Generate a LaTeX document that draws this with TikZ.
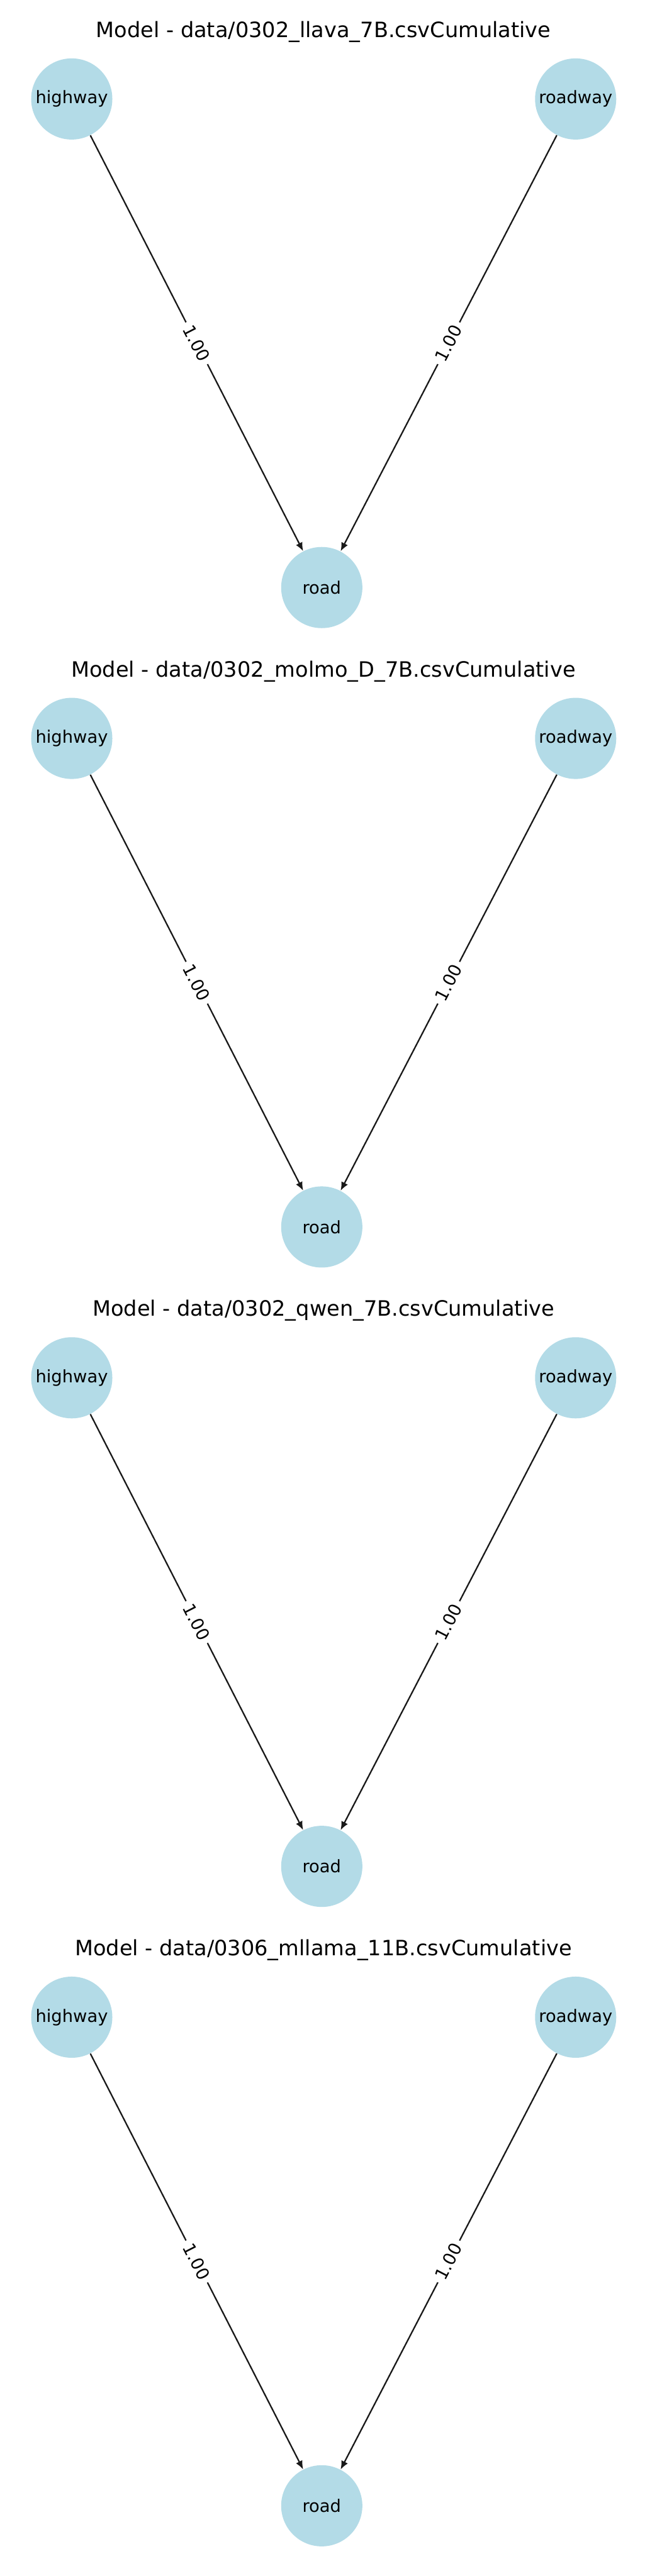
\documentclass[tikz,border=0pt]{standalone}
\usepackage{fontspec}
\setmainfont{DejaVu Sans}
\usetikzlibrary{arrows.meta}
\definecolor{nodeblue}{RGB}{179,219,231}

\begin{document}
\begin{tikzpicture}[
  wordnode/.style={circle,fill=nodeblue,minimum size=1.89cm,inner sep=0pt,font=\fontsize{11.4}{13}\selectfont},
  heading/.style={anchor=base,font=\fontsize{14}{17}\selectfont},
  edgeline/.style={-{Latex[length=0.2cm,width=0.17cm]},line width=0.95pt,black!90},
  edgeweight/.style={midway,sloped,fill=white,inner sep=0.1cm,text=black,font=\fontsize{11.4}{13}\selectfont}]
  \useasboundingbox[fill=white](0,0)rectangle(15,-60);
  % first model
  \node[heading](t1)at(7.53,-0.87){Model - data/0302\_llava\_7B.csvCumulative};
  \node[wordnode](h1)at(1.67,-2.305){highway};
  \node[wordnode](w1)at(13.40,-2.305){roadway};
  \node[wordnode](r1)at(7.49,-13.685){road};
  \draw[edgeline](h1)--(r1)node[edgeweight]{1.00};
  \draw[edgeline](w1)--(r1)node[edgeweight]{1.00};
  % second model
  \begin{scope}[shift={(0,-14.893)}]
    \node[heading](t2)at(7.53,-0.87){Model - data/0302\_molmo\_D\_7B.csvCumulative};
    \node[wordnode](h2)at(1.67,-2.305){highway};
    \node[wordnode](w2)at(13.40,-2.305){roadway};
    \node[wordnode](r2)at(7.49,-13.685){road};
    \draw[edgeline](h2)--(r2)node[edgeweight]{1.00};
    \draw[edgeline](w2)--(r2)node[edgeweight]{1.00};
  \end{scope}
  % third model
  \begin{scope}[shift={(0,-29.786)}]
    \node[heading](t3)at(7.53,-0.87){Model - data/0302\_qwen\_7B.csvCumulative};
    \node[wordnode](h3)at(1.67,-2.305){highway};
    \node[wordnode](w3)at(13.40,-2.305){roadway};
    \node[wordnode](r3)at(7.49,-13.685){road};
    \draw[edgeline](h3)--(r3)node[edgeweight]{1.00};
    \draw[edgeline](w3)--(r3)node[edgeweight]{1.00};
  \end{scope}
  % fourth model
  \begin{scope}[shift={(0,-44.679)}]
    \node[heading](t4)at(7.53,-0.87){Model - data/0306\_mllama\_11B.csvCumulative};
    \node[wordnode](h4)at(1.67,-2.305){highway};
    \node[wordnode](w4)at(13.40,-2.305){roadway};
    \node[wordnode](r4)at(7.49,-13.685){road};
    \draw[edgeline](h4)--(r4)node[edgeweight]{1.00};
    \draw[edgeline](w4)--(r4)node[edgeweight]{1.00};
  \end{scope}
\end{tikzpicture}
\end{document}
